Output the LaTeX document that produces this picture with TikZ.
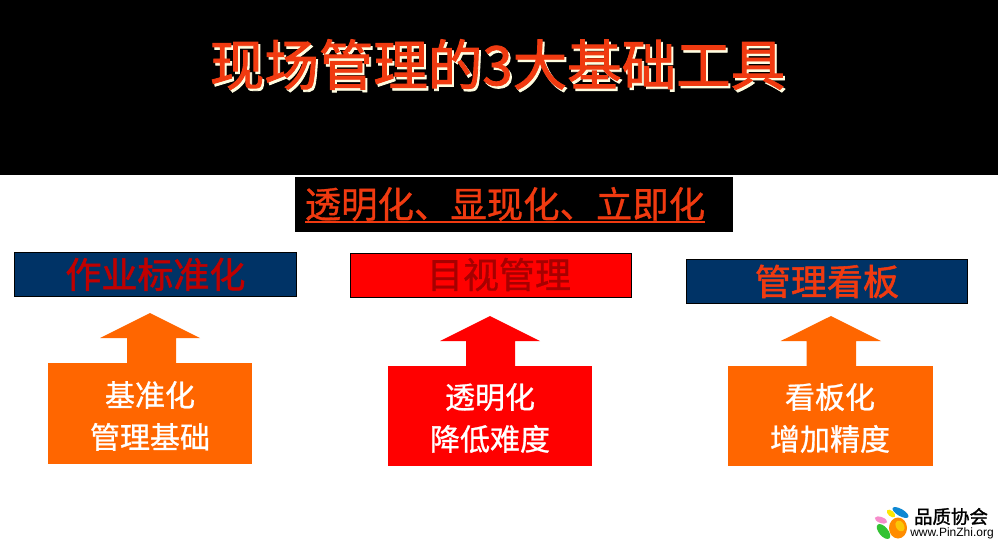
\documentclass[tikz,border=0pt]{standalone}
\usepackage{fontspec}
\setmainfont{Noto Sans CJK SC}
\newfontfamily\latinfont{Liberation Sans}
\newfontfamily\medcjk[FakeBold=0.9]{Noto Sans CJK SC}
\newfontfamily\semicjk[FakeBold=1.5]{Noto Sans CJK SC}
\definecolor{navyb}{HTML}{003366}
\definecolor{orangeb}{HTML}{FF6600}
\definecolor{redb}{HTML}{FF0000}
\definecolor{titlered}{HTML}{F03A10}
\tikzset{
  titletext/.style={font=\semicjk\fontsize{54.5}{60}\selectfont,text=titlered,inner sep=0pt,anchor=center},
  headbox/.style={draw=black,line width=0.8pt,inner sep=0pt,minimum height=44pt,minimum width=281pt,anchor=north west},
  headtext/.style={font=\semicjk\fontsize{36}{40}\selectfont},
  basebox/.style={inner sep=0pt,minimum width=204pt,minimum height=100pt,anchor=north west},
  basetext/.style={inner sep=0pt,text=white,align=center,font=\medcjk\fontsize{30}{42}\selectfont}
}
\begin{document}
\begin{tikzpicture}[x=1pt,y=-1pt]
\useasboundingbox (0,0) rectangle (998,544);
\fill[white] (0,0) rectangle (998,544);
\fill[black] (0,0) rectangle (998,175);
% title with shadow
\node[titletext,text=white!88!yellow] (titleshadow) at (499.5,67) {现场管理的3大基础工具};
\node[titletext] (title) at (497.5,64.5) {现场管理的3大基础工具};
% subtitle
\node[fill=black,inner sep=0pt,minimum width=438pt,minimum height=55pt,anchor=north west] (sub) at (295,177) {};
\node[inner sep=0pt,text=titlered,font=\medcjk\fontsize{36.4}{40}\selectfont] (subtext) at (505,204) {透明化、显现化、立即化};
\fill[titlered] (305,220.5) rectangle (705,222.5);
% header boxes
\node[headbox,fill=navyb,text=red!75!black,headtext,minimum width=282pt] (h1) at (14,252) {作业标准化};
\node[headbox,fill=redb] (h2) at (350,253) {};
\node[inner sep=0pt,text=red!65!black,font=\medcjk\fontsize{36}{40}\selectfont] (h2text) at (499,274.5) {目视管理};
\node[headbox,fill=navyb,text=titlered,headtext] (h3) at (686,259) {管理看板};
% base boxes
\node[basebox,fill=orangeb,minimum height=101pt] (b1) at (48,363) {};
\node[basebox,fill=redb] (b2) at (388,366) {};
\node[basebox,fill=orangeb,minimum width=205pt] (b3) at (728,366) {};
\node[basetext] (t1) at (150,416) {基准化\\管理基础};
\node[basetext] (t2) at (490,418) {透明化\\降低难度};
\node[basetext] (t3) at (830,418) {看板化\\增加精度};
% block arrows
\fill[orangeb] (b1.north) ++(-23,0) -- ++(0,-25) -- ++(-27,0) -- (150,313) -- (200,338) -- (176,338) -- (176,363) -- cycle;
\fill[redb] (b2.north) ++(-24,0) -- ++(0,-25) -- ++(-26,0) -- (490,316) -- (540,341) -- (515,341) -- (515,366) -- cycle;
\fill[orangeb] (b3.north) ++(-24,0) -- ++(0,-25) -- ++(-26,0) -- (831,316) -- (881,341) -- (856,341) -- (856,366) -- cycle;
% logo
\fill[orange!90!yellow] (898,528) ellipse [x radius=9,y radius=10.5];
\fill[yellow!60!orange,rotate around={30:(900,526)}] (900,526) ellipse [x radius=4,y radius=6];
\fill[cyan!70!blue,rotate around={-30:(900.5,512.5)}] (900.5,512.5) ellipse [x radius=9,y radius=3.5];
\fill[yellow!90!orange,rotate around={-40:(891,513.5)}] (891,513.5) ellipse [x radius=5,y radius=2.8];
\fill[magenta!45,rotate around={-20:(881,520)}] (881,520) ellipse [x radius=6.5,y radius=3];
\fill[green!70!black!80,rotate around={-50:(883.5,531.5)}] (883.5,531.5) ellipse [x radius=9,y radius=4.5];
\node[inner sep=0pt,anchor=center,font=\semicjk\fontsize{18.5}{20}\selectfont] (logoa) at (951,516.5) {品质协会};
\node[inner sep=0pt,anchor=center,font=\latinfont\fontsize{12}{14}\selectfont] (logob) at (952,533) {www.PinZhi.org};
\end{tikzpicture}
\end{document}
